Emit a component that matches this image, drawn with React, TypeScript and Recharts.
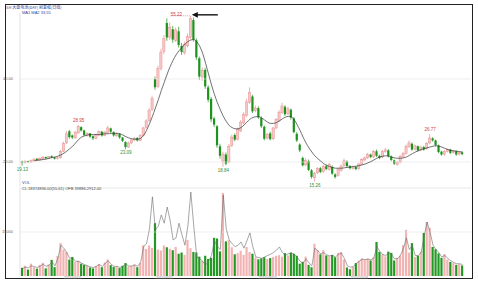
import React from "react";
import {
  ComposedChart,
  Bar,
  Line,
  XAxis,
  YAxis,
  ReferenceLine,
  ReferenceDot,
  Cell,
} from "recharts";

// daily OHLC
const opens = [
  20.1, 19.9, 20.2, 20.0, 20.3, 20.8, 20.5, 20.8, 21.2, 20.9,
  21.4, 21.1, 20.8, 21.0, 22.6, 24.6, 27.4, 26.4, 25.8, 27.0,
  28.4, 27.6, 26.4, 26.9, 26.2, 25.7, 26.5, 27.3, 26.4, 27.1,
  28.1, 27.2, 26.3, 26.8, 25.9, 24.8, 23.6, 24.6, 25.3, 25.8,
  25.2, 26.4, 28.3, 30.0, 32.6, 40.0, 38.2, 42.6, 46.6, 53.5,
  50.1, 52.0, 49.3, 51.5, 48.0, 46.3, 48.0, 50.0, 54.2, 49.3,
  45.0, 40.5, 42.2, 38.0, 35.2, 30.5, 28.6, 23.8, 20.2, 21.8,
  20.0, 24.0, 26.5, 25.5, 27.5, 29.4, 31.2, 34.3, 35.8, 32.4,
  33.0, 30.6, 28.5, 25.8, 26.9, 25.6, 28.2, 30.0, 31.9, 33.3,
  31.6, 32.6, 30.5, 26.8, 24.2, 21.0, 19.3, 20.2, 18.0, 16.2,
  17.4, 18.5, 17.7, 19.0, 18.2, 18.8, 17.0, 16.8, 18.0, 19.1,
  20.1, 19.0, 18.4, 18.8, 18.4, 19.5, 20.5, 21.0, 21.8, 21.2,
  22.6, 21.5, 21.2, 22.5, 22.8, 21.3, 20.4, 19.4, 20.0, 21.3,
  22.1, 23.7, 24.4, 23.1, 23.8, 22.9, 23.6, 23.2, 24.6, 25.7,
  25.2, 24.0, 22.5, 21.9, 22.6, 23.0, 22.3, 22.6, 21.9, 22.3,
];
const highs = [
  20.3, 20.4, 20.3, 20.6, 20.9, 20.9, 21.1, 21.4, 21.3, 21.5,
  21.6, 21.2, 21.2, 22.9, 24.9, 27.5, 27.7, 26.6, 27.5, 28.95,
  28.6, 27.8, 27.2, 27.0, 26.4, 26.8, 27.6, 27.5, 27.5, 28.7,
  28.3, 27.4, 27.1, 26.9, 26.0, 25.0, 24.9, 25.6, 26.0, 26.0,
  26.7, 28.5, 30.3, 33.0, 36.0, 40.6, 43.2, 47.3, 50.6, 54.6,
  53.6, 52.8, 52.4, 52.6, 48.7, 49.0, 51.0, 55.22, 54.8, 49.8,
  45.4, 42.8, 42.7, 38.5, 35.7, 30.9, 28.9, 24.4, 22.5, 22.3,
  24.3, 26.6, 26.9, 28.3, 30.1, 32.0, 35.2, 38.0, 36.2, 33.6,
  33.4, 31.0, 28.8, 27.0, 27.3, 28.5, 30.6, 32.5, 34.3, 33.7,
  33.3, 32.9, 30.8, 27.2, 24.5, 21.3, 20.9, 20.6, 18.3, 17.6,
  18.8, 18.8, 19.3, 19.4, 19.8, 19.2, 17.3, 18.6, 19.4, 20.8,
  20.4, 19.3, 19.1, 19.0, 19.8, 20.9, 21.3, 22.2, 22.0, 22.9,
  23.0, 21.8, 22.9, 23.4, 23.1, 21.6, 20.6, 20.2, 21.7, 22.4,
  24.2, 25.2, 24.7, 24.2, 24.0, 23.9, 23.9, 24.8, 26.77, 26.0,
  25.4, 24.2, 22.7, 22.9, 23.3, 23.2, 22.9, 22.8, 22.5, 22.5,
];
const lows = [
  19.13, 19.6, 19.8, 19.8, 20.1, 20.3, 20.3, 20.6, 20.7, 20.7,
  20.9, 20.6, 20.6, 20.8, 22.3, 24.3, 25.6, 25.5, 25.6, 26.8,
  27.3, 26.2, 26.1, 25.8, 25.3, 25.5, 26.3, 26.1, 26.2, 26.9,
  27.0, 26.1, 26.1, 25.6, 24.8, 23.09, 23.4, 24.3, 25.1, 24.9,
  25.0, 26.2, 28.0, 29.7, 32.3, 37.4, 37.8, 42.0, 46.0, 49.2,
  49.4, 48.7, 48.9, 47.6, 45.8, 45.9, 47.6, 49.6, 49.0, 44.6,
  39.8, 39.6, 37.6, 34.4, 29.6, 28.4, 23.4, 20.8, 18.84, 19.2,
  19.7, 23.6, 25.0, 25.2, 27.2, 29.1, 30.8, 34.0, 31.8, 32.0,
  30.4, 28.2, 25.2, 25.4, 25.2, 25.3, 27.9, 29.7, 31.6, 31.1,
  31.3, 30.2, 26.9, 24.8, 22.4, 18.9, 19.0, 17.8, 16.0, 15.26,
  17.1, 17.3, 17.4, 18.0, 17.9, 16.9, 16.0, 16.5, 17.7, 18.8,
  18.7, 18.2, 18.2, 18.0, 18.1, 19.2, 20.2, 20.7, 20.9, 20.9,
  21.2, 20.7, 20.9, 22.2, 21.1, 20.2, 19.3, 19.1, 19.7, 21.0,
  21.8, 23.4, 22.7, 22.8, 22.5, 22.6, 22.7, 22.9, 24.3, 24.9,
  23.8, 22.1, 21.5, 21.5, 22.3, 21.9, 22.0, 21.5, 21.6, 21.6,
];
const closes = [
  19.9, 20.2, 20.0, 20.4, 20.7, 20.5, 20.9, 21.2, 20.9, 21.3,
  21.1, 20.8, 21.0, 22.6, 24.5, 26.8, 26.0, 25.9, 27.2, 28.5,
  27.6, 26.5, 26.9, 26.1, 25.7, 26.6, 27.3, 26.4, 27.2, 28.2,
  27.3, 26.4, 26.8, 25.9, 25.1, 23.6, 24.6, 25.3, 25.7, 25.2,
  26.4, 28.2, 29.9, 32.5, 35.3, 38.0, 42.5, 46.5, 49.8, 50.0,
  52.5, 49.5, 51.8, 48.2, 46.5, 48.4, 50.3, 54.6, 49.5, 45.2,
  40.6, 42.0, 38.2, 35.0, 30.3, 29.0, 24.0, 21.5, 21.9, 19.6,
  23.8, 26.0, 25.4, 27.9, 29.6, 31.5, 34.5, 36.8, 32.2, 33.0,
  30.8, 28.6, 25.6, 26.6, 25.5, 28.2, 30.2, 32.0, 33.5, 31.5,
  32.8, 30.7, 27.2, 25.2, 22.8, 19.2, 20.4, 18.1, 16.4, 17.3,
  18.4, 17.6, 18.9, 18.3, 19.4, 17.2, 16.4, 18.2, 19.0, 20.3,
  19.0, 18.5, 18.8, 18.3, 19.5, 20.6, 21.0, 21.8, 21.2, 22.5,
  21.5, 21.0, 22.6, 22.9, 21.4, 20.5, 19.6, 19.9, 21.4, 22.0,
  23.8, 24.6, 23.0, 23.9, 22.8, 23.6, 23.0, 24.5, 25.8, 25.2,
  24.1, 22.4, 21.8, 22.6, 23.0, 22.2, 22.6, 21.8, 22.3, 21.9,
];
// moving average line as drawn
const maLine: (number | null)[] = [
  null, null, null, null, 20.3, 20.4, 20.5, 20.6, 20.7, 20.9,
  21.1, 21.2, 21.4, 21.7, 22.1, 22.6, 23.2, 23.8, 24.6, 25.4,
  26.0, 26.3, 26.5, 26.6, 26.6, 26.6, 26.6, 26.7, 26.8, 26.8,
  26.9, 26.9, 26.9, 26.8, 26.5, 26.1, 25.8, 25.6, 25.5, 25.5,
  25.7, 26.4, 27.6, 29.2, 31.0, 33.0, 35.0, 37.2, 39.2, 41.2,
  43.0, 44.5, 45.8, 46.8, 47.6, 48.4, 49.0, 49.4, 49.5, 49.0,
  47.9, 46.2, 43.8, 41.2, 38.6, 36.3, 34.3, 32.6, 31.0, 29.8,
  28.8, 28.3, 28.0, 28.0, 28.3, 28.9, 29.6, 30.3, 30.7, 30.9,
  30.9, 30.6, 30.1, 29.6, 29.3, 29.3, 29.5, 29.9, 30.4, 30.8,
  31.0, 30.9, 30.2, 29.0, 27.6, 26.0, 24.6, 23.4, 22.4, 21.5,
  20.8, 20.2, 19.6, 19.2, 18.9, 18.7, 18.5, 18.5, 18.5, 18.6,
  18.7, 18.8, 18.9, 19.0, 19.1, 19.3, 19.5, 19.8, 20.1, 20.5,
  20.9, 21.2, 21.4, 21.5, 21.4, 21.2, 21.0, 20.9, 20.9, 21.0,
  21.2, 21.6, 22.0, 22.4, 22.7, 23.0, 23.2, 23.4, 23.6, 23.8,
  23.9, 23.8, 23.6, 23.3, 23.0, 22.8, 22.7, 22.6, 22.5, 22.4,
];
const volumes = [
  2800, 3500, 2200, 4200, 3000, 2500, 3800, 4500, 2600, 3900,
  5500, 3000, 6800, 11200, 9000, 8200, 5600, 6500, 4800, 5200,
  4200, 3800, 3600, 2900, 2600, 3400, 4100, 3000, 4600, 5600,
  3700, 3100, 3300, 2700, 3500, 4400, 3200, 3400, 3900, 3000,
  4500, 10500, 9200, 10400, 9600, 18000, 9000, 8700, 10400, 9800,
  9300, 8800, 9900, 7600, 8000, 7200, 12300, 9500, 8200, 8000,
  6600, 5200, 6900, 5800, 6200, 13000, 12800, 8400, 28300, 11800,
  12200, 9800, 7400, 7800, 8600, 7200, 9900, 8200, 7600, 6300,
  5700, 6000, 6400, 5800, 6100, 6500, 6900, 7100, 6600, 7800,
  7000, 8000, 7600, 6900, 4200, 4800, 6600, 3800, 3000, 11000,
  8900, 7400, 8800, 7000, 6800, 7200, 6400, 7900, 8200, 5600,
  2900, 2300, 3100, 4400, 5200, 6000, 5500, 5900, 5300, 6400,
  11600, 8200, 7400, 6700, 8300, 7900, 5300, 6200, 7000, 10500,
  15700, 8000, 11200, 6500, 6900, 8300, 14700, 18400, 16400, 9900,
  9100, 7700, 6200, 7500, 5600, 4800, 4400, 3800, 4100, 3600,
];
const volLine = [
  2500, 3000, 2800, 3500, 3200, 2900, 3400, 4000, 3300, 3700,
  4800, 3500, 6000, 10500, 9500, 8000, 6000, 6200, 5000, 5000,
  4400, 3900, 3500, 3100, 2900, 3300, 3900, 3300, 4300, 5200,
  4000, 3300, 3300, 2900, 3300, 4100, 3400, 3400, 3800, 3300,
  4600, 10000, 11000, 16000, 27000, 15700, 17000, 20800, 18000, 23500,
  19000, 12300, 13000, 18000, 14000, 10500, 17000, 28600, 17000, 6500,
  6000, 5000, 3700, 5000, 7000, 12000, 10000, 9000, 27600, 16000,
  12300, 11000, 10000, 10500, 11600, 9500, 12000, 14700, 10000, 6500,
  6300, 6000, 6500, 7000, 7400, 8000, 8800, 9900, 8000, 7000,
  7600, 7800, 7400, 6500, 5000, 4400, 5800, 4500, 3500, 9500,
  8600, 7500, 8000, 7200, 6900, 7000, 6500, 7400, 7800, 6000,
  3500, 3000, 3200, 4200, 5000, 5700, 5600, 5800, 5500, 6200,
  10000, 8400, 7300, 7000, 7800, 7400, 5800, 6000, 7000, 9500,
  13000, 9000, 10500, 7000, 7000, 8000, 13500, 18400, 15000, 10500,
  9000, 8000, 6500, 7000, 6000, 5200, 4600, 4200, 4200, 3900,
];
const dateTicks = [17, 48, 83, 114];
const dateLabels = ["2015/04/01", "2015/06/01", "2015/08/03", "2015/10/08"];
// index + which extreme gets a price tag
const highMarks = [19, 138];
const lowMarks = [0, 35, 68, 99];
const peakIndex = 57;

const data = opens.map((o, i) => ({
  i,
  open: o,
  high: highs[i],
  low: lows[i],
  close: closes[i],
  ma: maLine[i],
  vol: volumes[i],
  vol2: volLine[i],
}));

const UP = "#e88f8f";
const UP_FILL = "#f7c8c8";
const DOWN = "#1d931d";
const FONT = "'Liberation Sans', Arial, sans-serif";

function Candle(props: any) {
  const { x, y, width, height } = props;
  const d = props.payload ?? props;
  if (d == null || height == null || isNaN(y)) return null;
  const top = Math.min(y, y + height);
  const h = Math.abs(height);
  const span = d.high - d.low || 1;
  const toY = (v: number) => top + ((d.high - v) / span) * h;
  const up = d.close >= d.open;
  const yo = toY(d.open);
  const yc = toY(d.close);
  const bodyTop = Math.min(yo, yc);
  const bodyH = Math.max(Math.abs(yo - yc), 0.6);
  const cx = x + width / 2;
  const col = up ? UP : DOWN;
  return (
    <g>
      <line x1={cx} x2={cx} y1={top} y2={top + h} stroke={col} strokeWidth={0.7} />
      <rect
        x={x}
        y={bodyTop}
        width={width}
        height={bodyH}
        fill={up ? UP_FILL : DOWN}
        stroke={col}
        strokeWidth={up ? 0.5 : 0}
      />
    </g>
  );
}

function PeakTag(props: any) {
  const { cx, cy } = props;
  if (cx == null || cy == null) return null;
  return (
    <g>
      <line x1={cx - 20} x2={cx - 1} y1={cy} y2={cy} stroke="#d04040" strokeWidth={0.5} strokeDasharray="1 1" />
      <text x={cx - 20} y={cy + 0.5} fontSize={4.5} fill="#d04040" fontFamily={FONT}>
        {highs[peakIndex].toFixed(2)}
      </text>
      <line x1={cx + 4} x2={cx + 27} y1={cy - 1} y2={cy - 1} stroke="#111" strokeWidth={1.4} />
      <path d={`M${cx + 1},${cy - 1} L${cx + 7},${cy - 3.8} L${cx + 7},${cy + 1.8} Z`} fill="#111" />
    </g>
  );
}

export default function App() {
  return (
    <div style={{ position: "absolute", left: 0, top: 0, width: 478, height: 283, background: "#fff", overflow: "hidden" }}>
      <div
        style={{
          position: "absolute",
          left: 5,
          top: 4,
          width: 468,
          height: 275,
          border: "1.5px solid #222",
          boxSizing: "border-box",
        }}
      />
      <div style={{ position: "absolute", left: 0, top: 0 }}>
        <ComposedChart width={478} height={190} data={data} margin={{ top: 12.6, right: 7, bottom: 3.1, left: 0 }}>
          <XAxis dataKey="i" hide padding={{ left: 1, right: 7 }} />
          <YAxis
            domain={[14, 56]}
            ticks={[20, 40]}
            width={20}
            allowDataOverflow
            tickFormatter={(v: number) => v.toFixed(2)}
            tick={{ fontSize: 4, fill: "#666", fontFamily: FONT }}
            tickLine={false}
            tickMargin={1}
            axisLine={{ stroke: "#cfcfcf", strokeWidth: 0.6 }}
          />
          <ReferenceLine y={40} stroke="#e2e2e2" strokeWidth={0.6} />
          <ReferenceLine y={20} stroke="#e2e2e2" strokeWidth={0.6} />
          <Bar
            dataKey={(d: any) => [d.low, d.high]}
            barSize={2.2}
            shape={<Candle />}
            isAnimationActive={false}
          />
          <Line
            dataKey="ma"
            type="monotone"
            stroke="#333"
            strokeWidth={0.7}
            dot={false}
            connectNulls
            isAnimationActive={false}
          />
          {highMarks.map((i) => (
            <ReferenceDot
              key={`h${i}`}
              x={i}
              y={highs[i]}
              r={0}
              ifOverflow="visible"
              label={{ value: highs[i].toFixed(2), position: "top", offset: 3, fontSize: 4.5, fill: "#d04040", fontFamily: FONT }}
            />
          ))}
          {lowMarks.map((i) => (
            <ReferenceDot
              key={`l${i}`}
              x={i}
              y={lows[i]}
              r={0}
              ifOverflow="visible"
              label={{ value: lows[i].toFixed(2), position: "bottom", offset: 2, fontSize: 4.5, fill: "#2f8f2f", fontFamily: FONT }}
            />
          ))}
          <ReferenceDot x={peakIndex} y={highs[peakIndex]} r={0} ifOverflow="visible" shape={<PeakTag />} />
        </ComposedChart>
      </div>
      <div style={{ position: "absolute", left: 0, top: 180 }}>
        <ComposedChart width={478} height={103} data={data} margin={{ top: 8, right: 7, bottom: 0, left: 0 }}>
          <XAxis
            dataKey="i"
            padding={{ left: 1, right: 7 }}
            height={7}
            ticks={dateTicks}
            interval={0}
            tickFormatter={(v: number) => dateLabels[dateTicks.indexOf(v)] ?? ""}
            tick={{ fontSize: 3.5, fill: "#888", fontFamily: FONT }}
            tickLine={false}
            tickSize={0}
            tickMargin={1}
            axisLine={false}
          />
          <YAxis
            domain={[0, 30000]}
            ticks={[15000]}
            width={20}
            allowDataOverflow
            tick={{ fontSize: 4, fill: "#666", fontFamily: FONT }}
            tickLine={false}
            tickMargin={1}
            axisLine={{ stroke: "#cfcfcf", strokeWidth: 0.6 }}
          />
          <ReferenceLine y={30000} stroke="#d6d6d6" strokeWidth={0.6} />
          <ReferenceLine y={15000} stroke="#e6e6e6" strokeWidth={0.6} />
          <Bar dataKey="vol" barSize={2.2} isAnimationActive={false}>
            {data.map((d) => (
              <Cell key={d.i} fill={d.close >= d.open ? "#f2b3b3" : "#239823"} />
            ))}
          </Bar>
          <Line
            dataKey="vol2"
            type="linear"
            stroke="#6a6a6a"
            strokeWidth={0.6}
            dot={false}
            isAnimationActive={false}
          />
        </ComposedChart>
      </div>
      <svg width={478} height={283} style={{ position: "absolute", left: 0, top: 0, pointerEvents: "none" }}>
        <text x={6} y={8.5} fontSize={4} fill="#2a3f9a" fontFamily="'Noto Sans CJK SC', sans-serif">
          SH 大盘电池(DAY) 前复权(日线)
        </text>
        <text x={22} y={14} fontSize={4} fill="#2a3f9a" fontFamily={FONT}>
          MA1  MA2   33.55
        </text>
        <text x={22} y={184} fontSize={4} fill="#2a3f9a" fontFamily={FONT}>
          VOL
        </text>
        <text x={22} y={190} fontSize={4} fill="#444" fontFamily={FONT}>
          CL  18374836.00(55.61)   OFB  39886.2912.00
        </text>
      </svg>
    </div>
  );
}
